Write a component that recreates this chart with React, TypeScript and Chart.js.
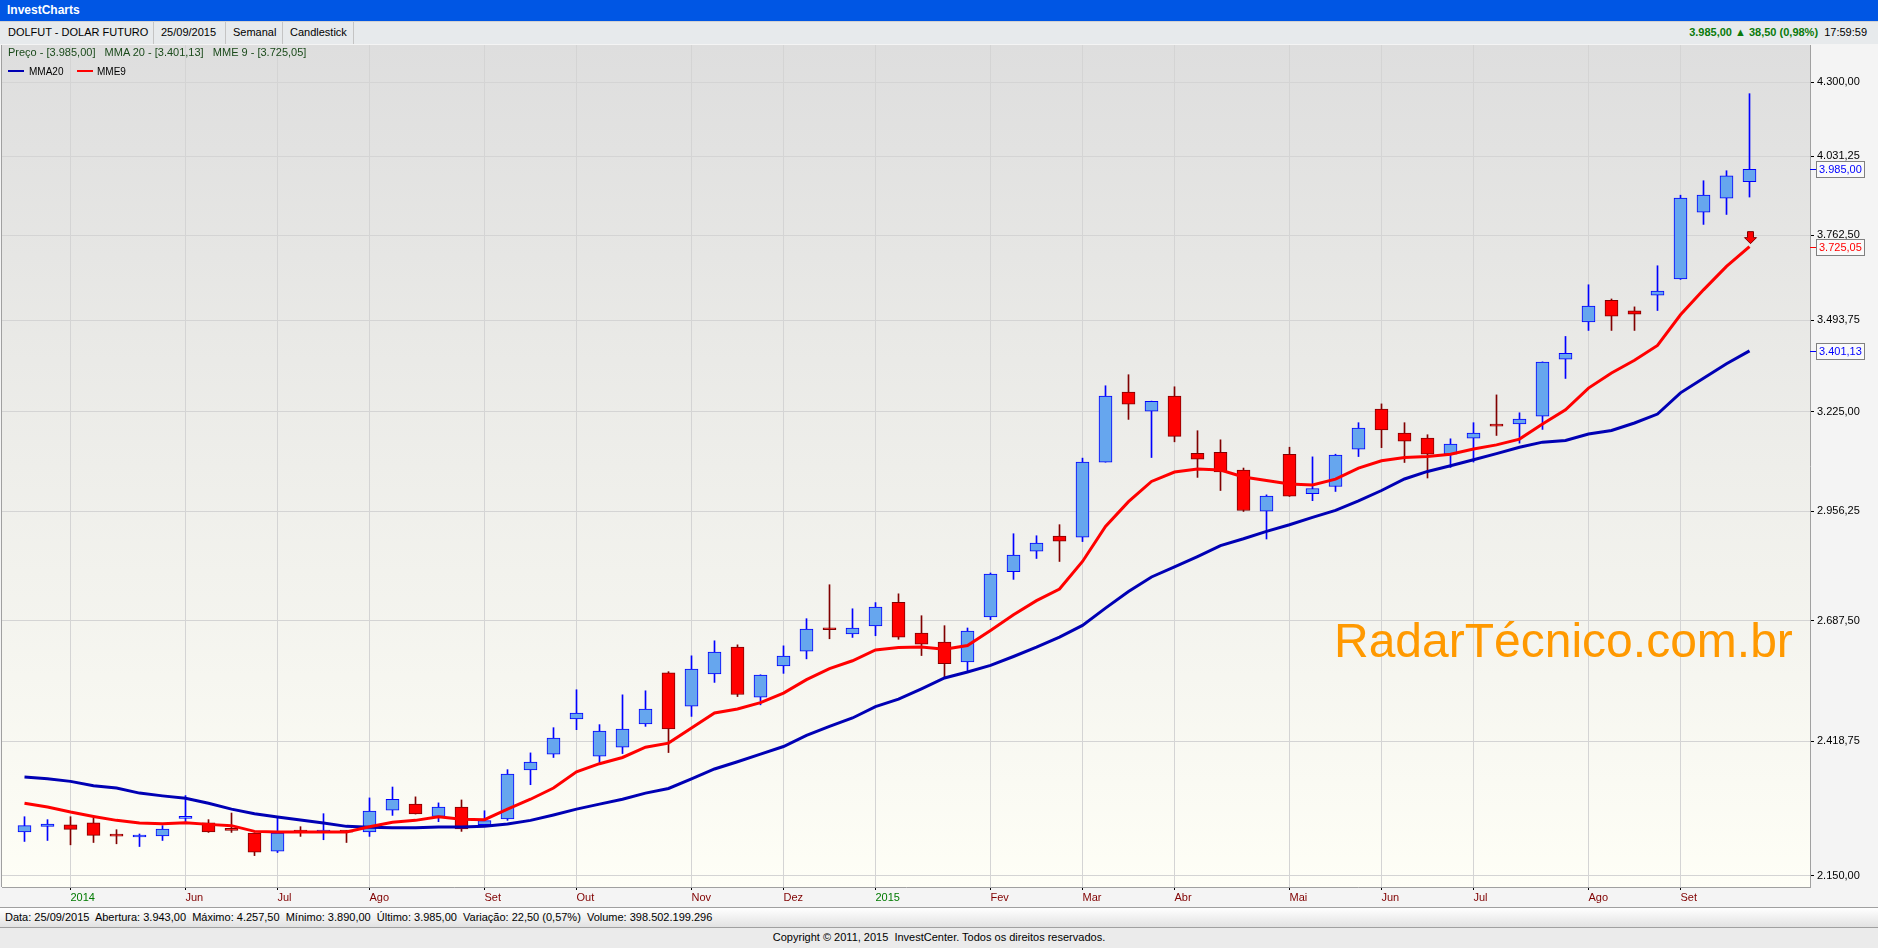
import React, { useEffect, useRef } from "react";
import { Chart, registerables } from "chart.js";

Chart.register(...registerables);

// ---- Data (weekly DOLFUT candles) ----
const openP = [
  2234.2, 2245.2, 2248.0, 2251.9, 2226.5, 2224.4, 2226.4, 2260.9, 2251.9, 2237.6,
  2232.3, 2197.0, 2234.4, 2234.0, 2234.4, 2234.2, 2277.4, 2289.2, 2264.8, 2283.3,
  2248.5, 2259.7, 2358.5, 2391.4, 2466.0, 2387.3, 2406.0, 2455.3, 2567.1, 2493.8,
  2564.8, 2625.5, 2513.3, 2582.7, 2616.3, 2666.4, 2655.9, 2674.6, 2730.7, 2658.2,
  2637.2, 2591.7, 2695.7, 2804.5, 2855.0, 2893.1, 2890.5, 3086.2, 3280.6, 3226.7,
  3269.0, 3110.2, 3112.9, 3064.9, 2956.9, 3107.5, 3002.4, 3021.1, 3121.0, 3232.3,
  3165.5, 3151.6, 3107.5, 3151.6, 3185.3, 3190.5, 3212.8, 3376.6, 3487.8, 3554.6,
  3522.1, 3570.4, 3621.2, 3839.2, 3885.9, 3943.0,
];
const highP = [
  2264.2, 2258.4, 2264.2, 2261.7, 2238.7, 2230.3, 2246.6, 2306.4, 2258.4, 2271.5,
  2232.8, 2264.8, 2244.6, 2270.2, 2237.4, 2301.7, 2323.7, 2303.8, 2291.7, 2297.6,
  2276.0, 2359.2, 2394.0, 2447.3, 2529.7, 2453.8, 2518.5, 2527.4, 2570.0, 2605.8,
  2640.2, 2630.9, 2563.0, 2628.6, 2691.7, 2772.7, 2715.1, 2729.8, 2750.8, 2698.7,
  2675.3, 2669.9, 2801.3, 2899.0, 2893.9, 2922.0, 3096.9, 3298.9, 3330.9, 3255.0,
  3296.0, 3171.9, 3146.8, 3070.2, 2999.1, 3126.5, 3100.3, 3107.5, 3194.2, 3247.1,
  3194.2, 3160.8, 3149.6, 3194.2, 3272.7, 3222.0, 3368.5, 3444.1, 3603.1, 3558.7,
  3534.2, 3663.4, 3896.3, 3945.8, 3980.4, 4257.5,
];
const lowP = [
  2215.8, 2217.7, 2209.3, 2213.8, 2211.3, 2206.0, 2217.7, 2253.1, 2233.4, 2233.4,
  2188.6, 2194.4, 2225.6, 2219.1, 2213.8, 2225.6, 2266.8, 2269.5, 2254.4, 2235.4,
  2244.6, 2257.0, 2328.4, 2384.4, 2443.0, 2374.0, 2392.6, 2450.1, 2394.7, 2471.5,
  2546.0, 2514.7, 2496.6, 2566.2, 2598.9, 2644.9, 2648.0, 2651.9, 2643.7, 2606.4,
  2558.1, 2568.4, 2689.4, 2785.7, 2837.0, 2829.6, 2879.2, 3086.0, 3203.4, 3098.5,
  3141.3, 3045.2, 3010.5, 2955.9, 2885.7, 2995.0, 2983.9, 3008.0, 3101.1, 3125.4,
  3085.1, 3043.6, 3071.8, 3086.2, 3158.8, 3137.7, 3175.5, 3320.0, 3462.2, 3462.2,
  3462.2, 3523.0, 3620.0, 3798.1, 3831.3, 3890.0,
];
const closeP = [
  2246.6, 2249.9, 2239.3, 2227.6, 2226.0, 2228.4, 2240.1, 2264.2, 2234.2, 2237.2,
  2195.1, 2232.3, 2234.0, 2234.4, 2234.0, 2275.4, 2299.0, 2269.5, 2283.3, 2240.1,
  2256.4, 2350.3, 2375.0, 2425.3, 2478.8, 2440.3, 2444.5, 2487.4, 2444.5, 2576.0,
  2614.1, 2519.2, 2562.6, 2605.1, 2667.6, 2665.8, 2669.9, 2719.0, 2648.4, 2632.5,
  2587.9, 2662.9, 2798.9, 2845.3, 2875.3, 2880.4, 3086.2, 3269.0, 3246.2, 3254.6,
  3156.4, 3094.2, 3059.5, 2958.4, 2995.6, 2995.6, 3015.7, 3104.9, 3179.4, 3173.8,
  3143.2, 3107.5, 3134.9, 3165.5, 3184.7, 3204.5, 3367.8, 3394.0, 3536.4, 3506.0,
  3512.1, 3583.1, 3886.9, 3896.3, 3962.5, 3985.0,
];
const mma20 = [
  2344.2, 2340.7, 2335.2, 2326.3, 2321.6, 2311.4, 2305.8, 2301.1, 2291.1, 2279.3,
  2270.1, 2263.7, 2257.8, 2251.9, 2245.2, 2243.3, 2242.7, 2242.7, 2244.0, 2244.0,
  2245.2, 2249.9, 2257.0, 2267.6, 2279.3, 2289.2, 2299.0, 2311.4, 2320.8, 2340.1,
  2360.6, 2375.6, 2391.4, 2407.3, 2430.8, 2450.1, 2468.1, 2492.9, 2508.9, 2531.9,
  2555.9, 2569.3, 2584.1, 2604.2, 2625.5, 2648.9, 2676.0, 2716.7, 2756.4, 2791.5,
  2816.0, 2841.8, 2869.2, 2886.2, 2904.9, 2921.9, 2940.6, 2958.9, 2983.2, 3010.5,
  3040.9, 3061.1, 3076.3, 3092.3, 3109.1, 3126.5, 3140.4, 3144.9, 3162.7, 3172.7,
  3193.3, 3218.4, 3278.6, 3320.8, 3362.9, 3401.13,
];
const mme9 = [
  2291.1, 2283.3, 2273.5, 2264.8, 2257.0, 2251.9, 2250.5, 2252.5, 2249.1, 2246.6,
  2235.4, 2234.2, 2234.2, 2234.2, 2234.2, 2244.6, 2253.1, 2257.0, 2264.2, 2259.3,
  2258.4, 2279.4, 2299.0, 2321.6, 2354.6, 2371.5, 2384.4, 2406.0, 2414.5, 2446.7,
  2478.8, 2487.4, 2501.5, 2522.3, 2552.1, 2576.7, 2594.6, 2619.2, 2625.0, 2626.2,
  2620.8, 2629.3, 2664.3, 2701.0, 2734.4, 2762.2, 2829.6, 2917.6, 2981.4, 3034.5,
  3059.5, 3067.5, 3064.9, 3046.2, 3037.2, 3027.8, 3024.9, 3040.4, 3070.2, 3089.7,
  3098.5, 3101.1, 3107.5, 3121.8, 3132.9, 3148.8, 3190.5, 3230.4, 3292.2, 3335.8,
  3373.0, 3417.3, 3509.9, 3587.2, 3661.2, 3725.05,
];

const xTickPositions = [2, 7, 11, 15, 20, 24, 29, 33, 37, 42, 46, 50, 55, 59, 63, 68, 72];
const xTickLabels = ["2014", "Jun", "Jul", "Ago", "Set", "Out", "Nov", "Dez", "2015", "Fev", "Mar", "Abr", "Mai", "Jun", "Jul", "Ago", "Set"];
const yTickValues = [2150, 2418.75, 2687.5, 2956.25, 3225, 3493.75, 3762.5, 4031.25, 4300];

const FONT = '"Liberation Sans", Arial, sans-serif';

function fmtBR(v: number): string {
  const [int, dec] = v.toFixed(2).split(".");
  return int.replace(/\B(?=(\d{3})+(?!\d))/g, ".") + "," + dec;
}

const bgPlugin = {
  id: "bgPlugin",
  beforeDraw(chart: any) {
    const { ctx, chartArea: a, width, height } = chart;
    ctx.save();
    ctx.fillStyle = "#F4F4F4";
    ctx.fillRect(0, 0, width, height);
    const g = ctx.createLinearGradient(0, a.top, 0, a.bottom);
    g.addColorStop(0, "#DEDEDE");
    g.addColorStop(1, "#FEFEF6");
    ctx.fillStyle = g;
    ctx.fillRect(a.left, a.top, a.right - a.left, a.bottom - a.top);
    ctx.strokeStyle = "#A0A0A0";
    ctx.lineWidth = 1;
    ctx.beginPath();
    ctx.moveTo(a.left - 0.5, a.top);
    ctx.lineTo(a.left - 0.5, a.bottom);
    ctx.stroke();
    ctx.restore();
  },
  beforeDatasetsDraw(chart: any) {
    const { ctx } = chart;
    ctx.save();
    ctx.font = `48px ${FONT}`;
    ctx.fillStyle = "#FF9900";
    ctx.textBaseline = "alphabetic";
    ctx.fillText("RadarTécnico.com.br", 1334, 613);
    ctx.restore();
  },
  afterDraw(chart: any) {
    const { ctx, chartArea: a } = chart;
    const ys = chart.scales.y;
    const xs = chart.scales.x;
    const last = closeP.length - 1;
    ctx.save();
    // red arrow above MME9 end
    const ax = Math.round(xs.getPixelForValue(last)) + 0.5;
    const ay = ys.getPixelForValue(mme9[last]) - 3;
    ctx.beginPath();
    ctx.moveTo(ax, ay);
    ctx.lineTo(ax - 6, ay - 6);
    ctx.lineTo(ax - 3, ay - 6);
    ctx.lineTo(ax - 3, ay - 12);
    ctx.lineTo(ax + 3, ay - 12);
    ctx.lineTo(ax + 3, ay - 6);
    ctx.lineTo(ax + 6, ay - 6);
    ctx.closePath();
    ctx.fillStyle = "#FF0000";
    ctx.fill();
    ctx.strokeStyle = "#800000";
    ctx.lineWidth = 1;
    ctx.stroke();
    // value tags on the right axis
    const tags = [
      { v: closeP[last], c: "#0000FF" },
      { v: mme9[last], c: "#FF0000" },
      { v: mma20[last], c: "#0000FF" },
    ];
    ctx.font = `11px ${FONT}`;
    ctx.textBaseline = "middle";
    ctx.textAlign = "left";
    for (const t of tags) {
      const y = Math.round(ys.getPixelForValue(t.v));
      ctx.strokeStyle = t.c;
      ctx.beginPath();
      ctx.moveTo(a.right, y + 0.5);
      ctx.lineTo(a.right + 6, y + 0.5);
      ctx.stroke();
      ctx.fillStyle = "#FAFAFA";
      ctx.fillRect(a.right + 6.5, y - 7.5, 48, 16);
      ctx.strokeStyle = "#808080";
      ctx.strokeRect(a.right + 6.5, y - 7.5, 48, 16);
      ctx.fillStyle = t.c;
      ctx.fillText(fmtBR(t.v), a.right + 9, y + 1);
    }
    ctx.restore();
  },
};

export default function App() {
  const ref = useRef<HTMLCanvasElement>(null);

  useEffect(() => {
    document.body.style.margin = "0";
    const canvas = ref.current!;
    const isUp = openP.map((o, i) => closeP[i] >= o);
    const chart = new Chart(canvas, {
      type: "bar",
      data: {
        datasets: [
          {
            type: "line",
            label: "MME9",
            data: mme9.map((v, i) => ({ x: i, y: v })),
            borderColor: "#FF0000",
            borderWidth: 3,
            pointRadius: 0,
            tension: 0,
            order: 0,
          } as any,
          {
            type: "line",
            label: "MMA20",
            data: mma20.map((v, i) => ({ x: i, y: v })),
            borderColor: "#0000B4",
            borderWidth: 3,
            pointRadius: 0,
            tension: 0,
            order: 1,
          } as any,
          {
            type: "bar",
            label: "Corpo",
            data: openP.map((o, i) => ({ x: i, y: [o, closeP[i]] })),
            backgroundColor: isUp.map((u) => (u ? "#66A6EE" : "#FF0000")),
            borderColor: isUp.map((u) => (u ? "#0000FF" : "#800000")),
            borderWidth: 1,
            borderSkipped: false,
            barThickness: 13,
            minBarLength: 2,
            grouped: false,
            order: 2,
          } as any,
          {
            type: "bar",
            label: "Sombra",
            data: lowP.map((l, i) => ({ x: i, y: [l, highP[i]] })),
            backgroundColor: isUp.map((u) => (u ? "#0000FF" : "#800000")),
            borderWidth: 0,
            barThickness: 1,
            grouped: false,
            order: 3,
          } as any,
        ],
      },
      options: {
        responsive: false,
        animation: false,
        events: [],
        layout: { padding: { left: 2, top: 1, right: 0, bottom: 0 } },
        plugins: { legend: { display: false }, tooltip: { enabled: false } },
        scales: {
          x: {
            type: "linear",
            position: "bottom",
            min: (2 - 24.5) / 23,
            max: (1810 - 24.5) / 23,
            bounds: "data",
            offset: false,
            grid: {
              color: "#D4D4D4",
              lineWidth: 1,
              drawOnChartArea: true,
              drawTicks: true,
              tickLength: 3,
              tickColor: "#000000",
              offset: false,
            },
            border: { display: true, color: "#A0A0A0", width: 1 },
            ticks: {
              autoSkip: false,
              maxRotation: 0,
              minRotation: 0,
              align: "start",
              padding: 1,
              font: { family: FONT, size: 11 },
              color: (c: any) => (/^\d{4}$/.test(xTickLabels[c.index] || "") ? "#007A00" : "#800000"),
              callback: (v: any) => {
                const k = xTickPositions.indexOf(Number(v));
                return k >= 0 ? xTickLabels[k] : "";
              },
            },
            afterBuildTicks: (s: any) => {
              s.ticks = xTickPositions.map((v) => ({ value: v }));
            },
            afterFit: (s: any) => {
              s.height = 20;
              s.paddingLeft = 0;
              s.paddingRight = 0;
            },
          } as any,
          y: {
            type: "logarithmic",
            position: "right",
            min: 2129.4,
            max: 4442.4,
            bounds: "data",
            grid: { color: "#D4D4D4", lineWidth: 1, tickLength: 4, tickColor: "#000000" },
            border: { display: true, color: "#A0A0A0", width: 1 },
            ticks: {
              autoSkip: false,
              padding: 3,
              font: { family: FONT, size: 11 },
              color: "#000000",
              callback: (v: any) => fmtBR(Number(v)),
            },
            afterBuildTicks: (s: any) => {
              s.ticks = yTickValues.map((v) => ({ value: v }));
            },
            afterFit: (s: any) => {
              s.width = 68;
              s.paddingTop = 0;
              s.paddingBottom = 0;
            },
          } as any,
        },
      },
      plugins: [bgPlugin],
    } as any);
    return () => chart.destroy();
  }, []);

  const abs = (s: React.CSSProperties): React.CSSProperties => ({ position: "absolute", whiteSpace: "nowrap", ...s });

  return (
    <div style={abs({ left: 0, top: 0, width: 1878, height: 948, overflow: "hidden", background: "#EBEBEB", fontFamily: FONT, fontSize: 11, color: "#000" })}>
      {/* title bar */}
      <div style={abs({ left: 0, top: 0, width: 1878, height: 21, background: "#0056E4" })}>
        <span style={abs({ left: 7, top: 3, color: "#FFFFFF", fontWeight: "bold", fontSize: 12 })}>InvestCharts</span>
      </div>
      {/* toolbar */}
      <div style={abs({ left: 0, top: 21, width: 1878, height: 22, background: "#E7EAEC", borderTop: "1px solid #D2D2D2", borderBottom: "1px solid #A0A0A0" })}>
        <span style={abs({ left: 8, top: 4, fontSize: 11 })}>DOLFUT - DOLAR FUTURO</span>
        <div style={abs({ left: 153, top: 0, width: 1, height: 22, background: "#C4C4C4" })} />
        <span style={abs({ left: 161, top: 4, fontSize: 11 })}>25/09/2015</span>
        <div style={abs({ left: 225, top: 0, width: 1, height: 22, background: "#C4C4C4" })} />
        <span style={abs({ left: 233, top: 4, fontSize: 11 })}>Semanal</span>
        <div style={abs({ left: 282, top: 0, width: 1, height: 22, background: "#C4C4C4" })} />
        <span style={abs({ left: 290, top: 4, fontSize: 11 })}>Candlestick</span>
        <div style={abs({ left: 353, top: 0, width: 1, height: 22, background: "#C4C4C4" })} />
        <span style={abs({ right: 11, top: 4, fontSize: 11 })}>
          <b style={{ color: "#0A7A0A" }}>3.985,00 ▲ 38,50 (0,98%)</b>&nbsp; 17:59:59
        </span>
      </div>
      {/* chart */}
      <canvas ref={ref} width={1878} height={863} style={abs({ left: 0, top: 44, width: 1878, height: 863 })} />
      {/* header texts over the plot */}
      <div style={abs({ left: 8, top: 46, color: "#1A4A1A", fontSize: 11 })}>
        Preço - [3.985,00]&nbsp;&nbsp; MMA 20 - [3.401,13]&nbsp;&nbsp; MME 9 - [3.725,05]
      </div>
      <div style={abs({ left: 8, top: 70, width: 16, height: 2, background: "#0000B4" })} />
      <span style={abs({ left: 29, top: 66, fontSize: 10, color: "#000" })}>MMA20</span>
      <div style={abs({ left: 77, top: 70, width: 16, height: 2, background: "#FF0000" })} />
      <span style={abs({ left: 97, top: 66, fontSize: 10, color: "#000" })}>MME9</span>
      {/* info bar */}
      <div style={abs({ left: 0, top: 907, width: 1878, height: 19, borderTop: "1px solid #A0A0A0", borderBottom: "1px solid #A0A0A0", background: "linear-gradient(#FFFFFF, #E2E2E2)" })}>
        <span style={abs({ left: 5, top: 3, fontSize: 11 })}>
          Data: 25/09/2015&nbsp; Abertura: 3.943,00&nbsp; Máximo: 4.257,50&nbsp; Mínimo: 3.890,00&nbsp; Último: 3.985,00&nbsp; Variação: 22,50 (0,57%)&nbsp; Volume: 398.502.199.296
        </span>
      </div>
      {/* copyright */}
      <div style={abs({ left: 0, top: 931, width: 1878, textAlign: "center", fontSize: 11 })}>
        Copyright © 2011, 2015&nbsp; InvestCenter. Todos os direitos reservados.
      </div>
    </div>
  );
}
